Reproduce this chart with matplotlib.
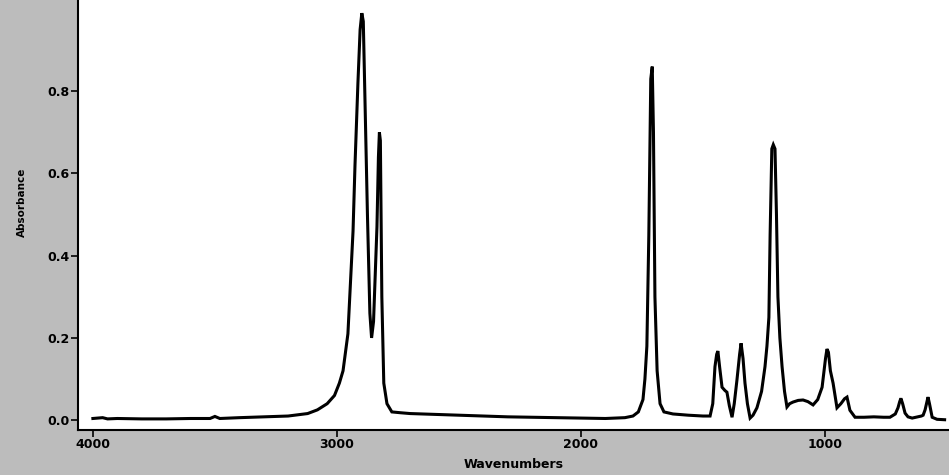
import matplotlib
matplotlib.use("Agg")
import matplotlib.pyplot as plt

# IR spectrum (wavenumber in cm-1, absorbance)
wavenumbers = [
    4000, 3960, 3940, 3900, 3800, 3700, 3600, 3520, 3500, 3480, 3400,
    3300, 3200, 3120, 3080, 3040, 3010, 2990, 2975, 2955, 2934, 2926,
    2914, 2905, 2898, 2892, 2885, 2875, 2865, 2858, 2850, 2836, 2830,
    2826, 2822, 2816, 2808, 2795, 2775, 2740, 2700, 2600, 2500, 2400,
    2300, 2200, 2100, 2000, 1900, 1820, 1787, 1765, 1746, 1738, 1730,
    1722, 1714, 1708, 1703, 1697, 1688, 1676, 1660, 1623, 1560, 1500,
    1471, 1460, 1451, 1444, 1439, 1432, 1422, 1410, 1402, 1392, 1381,
    1372, 1361, 1350, 1344, 1336, 1328, 1318, 1307, 1295, 1279, 1260,
    1246, 1238, 1230, 1225, 1218, 1212, 1205, 1199, 1193, 1185, 1176,
    1166, 1156, 1145, 1131, 1110, 1090, 1070, 1049, 1030, 1012, 998,
    992, 986, 978, 967, 951, 935, 920, 910, 898, 877, 840, 800,
    760, 734, 712, 701, 694, 689, 682, 672, 660, 643, 620, 605,
    598, 590, 582, 578, 572, 561, 541, 510,
]
absorbance = [
    0.004, 0.006, 0.003, 0.004, 0.003, 0.003, 0.004, 0.004, 0.009, 0.004, 0.006,
    0.008, 0.010, 0.016, 0.025, 0.040, 0.060, 0.090, 0.120, 0.210, 0.460, 0.620,
    0.820, 0.950, 0.990, 0.970, 0.780, 0.500, 0.260, 0.200, 0.240, 0.470, 0.640,
    0.700, 0.680, 0.300, 0.090, 0.040, 0.020, 0.018, 0.016, 0.014, 0.012, 0.010,
    0.008, 0.007, 0.006, 0.005, 0.004, 0.006, 0.010, 0.020, 0.050, 0.100, 0.180,
    0.450, 0.830, 0.860, 0.700, 0.300, 0.120, 0.040, 0.020, 0.015, 0.012, 0.010,
    0.010, 0.040, 0.130, 0.160, 0.168, 0.130, 0.080, 0.072, 0.068, 0.035, 0.007,
    0.040, 0.097, 0.160, 0.187, 0.150, 0.090, 0.040, 0.005, 0.012, 0.030, 0.070,
    0.130, 0.180, 0.250, 0.450, 0.660, 0.670, 0.660, 0.500, 0.300, 0.200, 0.130,
    0.070, 0.032, 0.040, 0.044, 0.048, 0.049, 0.045, 0.037, 0.050, 0.080, 0.150,
    0.173, 0.165, 0.120, 0.090, 0.030, 0.040, 0.052, 0.056, 0.024, 0.007, 0.007, 0.008,
    0.007, 0.007, 0.015, 0.030, 0.045, 0.053, 0.040, 0.017, 0.008, 0.005, 0.008, 0.010,
    0.012, 0.025, 0.045, 0.056, 0.040, 0.007, 0.002, 0.001,
]

x_ticks = [4000, 3000, 2000, 1000]
y_ticks = [0.0, 0.2, 0.4, 0.6, 0.8]

fig = plt.figure(figsize=(9.49, 4.75), dpi=100)
fig.patch.set_facecolor("#bcbcbc")

ax = fig.add_axes([78 / 949, 45 / 475, 1 - 78 / 949, 1 - 45 / 475])
ax.set_facecolor("white")
ax.plot(wavenumbers, absorbance, color="black", linewidth=2.2,
        solid_joinstyle="miter")

ax.set_xlim(4061, 492)
ax.set_ylim(-0.024, 1.022)
ax.set_xticks(x_ticks)
ax.set_xticklabels([str(t) for t in x_ticks])
ax.set_yticks(y_ticks)
ax.set_yticklabels([f"{t:.1f}" for t in y_ticks])

for side in ["top", "right"]:
    ax.spines[side].set_visible(False)
for side in ["left", "bottom"]:
    ax.spines[side].set_linewidth(1.5)

ax.tick_params(direction="out", length=5, width=1.2, labelsize=9, pad=1)
for lbl in ax.get_xticklabels() + ax.get_yticklabels():
    lbl.set_fontweight("bold")
ax.set_xlabel("Wavenumbers", fontsize=9, fontweight="bold", labelpad=5)
ax.set_ylabel("Absorbance", fontsize=7.5, fontweight="bold")
ax.yaxis.set_label_coords(-0.059, 0.53)

fig.savefig("out.png", dpi=100, facecolor=fig.get_facecolor())
